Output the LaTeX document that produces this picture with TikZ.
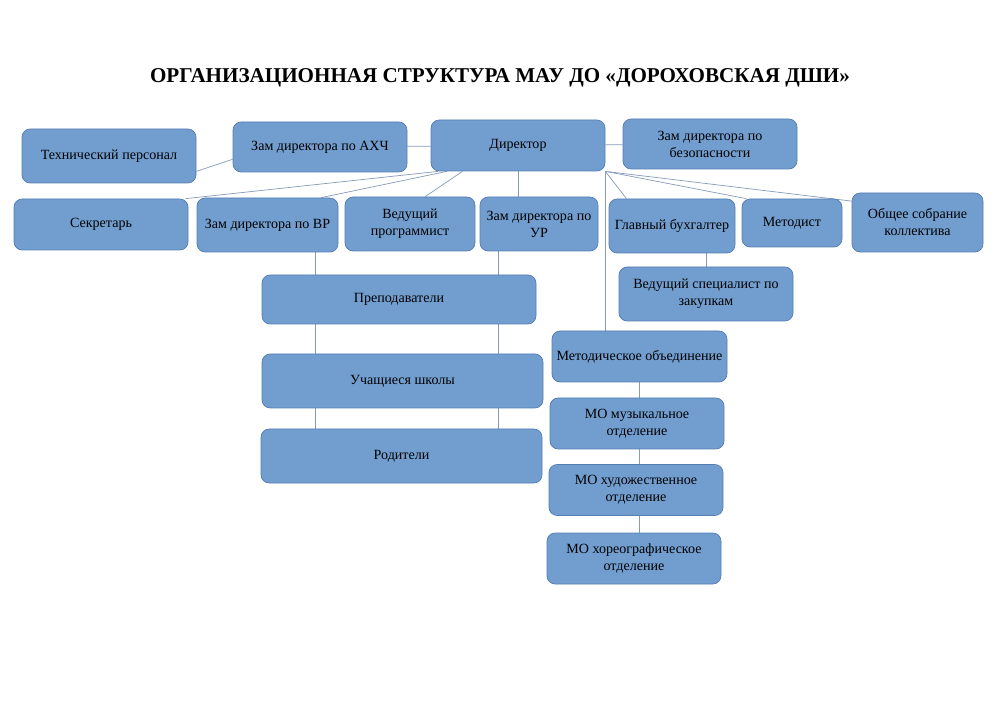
\documentclass[tikz,border=0pt]{standalone}
\usepackage{fontspec}
\setmainfont{Liberation Serif}
\usetikzlibrary{backgrounds}
\definecolor{boxfill}{RGB}{113,158,207}
\definecolor{boxline}{RGB}{84,125,180}
\definecolor{linkline}{RGB}{135,155,185}
\tikzset{unitbox/.style 2 args={draw=boxline,fill=boxfill,line width=0.6pt,rounded corners=7pt,align=center,inner sep=1pt,font=\fontsize{12}{14.5}\selectfont,minimum width=#1*0.3mm,minimum height=#2*0.3mm},
link/.style={draw=linkline,line width=0.6pt}}

\begin{document}
\begin{tikzpicture}[x=0.3mm,y=-0.3mm]
\useasboundingbox (0,0) rectangle (1000,707);
\node[font=\fontsize{18}{20}\selectfont\bfseries] (title) at (500,78) {ОРГАНИЗАЦИОННАЯ СТРУКТУРА МАУ ДО «ДОРОХОВСКАЯ ДШИ»};
\node[unitbox={174}{54}] (tech) at (109,156) {Технический персонал};
\node[unitbox={174}{50}] (axch) at (320,147) {Зам директора по АХЧ};
\node[unitbox={174}{51}] (dir) at (518,145.5) {Директор};
\node[unitbox={174}{50}] (bez) at (710,144) {Зам директора по\\безопасности};
\node[unitbox={174}{51}] (sekr) at (101,224.5) {Секретарь};
\node[unitbox={141}{54}] (vr) at (267.5,225) {Зам директора по ВР};
\node[unitbox={130}{54}] (prog) at (410,224) {Ведущий\\программист};
\node[unitbox={118}{54}] (ur) at (539,224) {Зам директора по\\УР};
\node[unitbox={126}{54}] (buh) at (672,226) {Главный бухгалтер};
\node[unitbox={100}{48}] (metod) at (792,223) {Методист};
\node[unitbox={131}{59}] (sobr) at (917.5,222.5) {Общее собрание\\коллектива};
\node[unitbox={274}{49}] (prep) at (399,299.5) {Преподаватели};
\node[unitbox={281}{54}] (uch) at (402.5,381) {Учащиеся школы};
\node[unitbox={281}{54}] (rod) at (401.5,456) {Родители};
\node[unitbox={174}{54}] (zak) at (706,294) {Ведущий специалист по\\закупкам};
\node[unitbox={175}{51}] (mo) at (639.5,356.5) {Методическое объединение};
\foreach \n/\x/\y/\t in {mus/637/423.5/музыкальное,hud/636/490/художественное,hor/634/558.5/хореографическое}
  {\node[unitbox={174}{51}] (\n) at (\x,\y) {МО \t\\отделение};}
\begin{scope}[on background layer]
\draw[link] (axch) -- (dir);
\draw[link] (dir) -- (bez);
\draw[link] (axch.188) -- (tech.-10);
\draw[link] (dir.198) -- (sekr.17);
\draw[link] (dir.200) -- (vr.27);
\draw[link] (dir.205) -- (prog.61);
\draw[link] (dir) -- (dir |- ur.north);
\draw[link] (dir.south east) -- (dir.south east |- mo.north);
\draw[link] (dir.south east) -- (buh.149);
\draw[link] (dir.south east) -- (metod.152);
\draw[link] (dir.south east) -- (sobr.162);
\draw[link] (zak) -- (zak |- buh);
\draw[link] (vr.-30) -- (vr.-30 |- rod.north);
\draw[link] (ur.214) -- (ur.214 |- rod.north);
\draw[link] (mo) -- (mo |- hor);
\end{scope}
\end{tikzpicture}
\end{document}
